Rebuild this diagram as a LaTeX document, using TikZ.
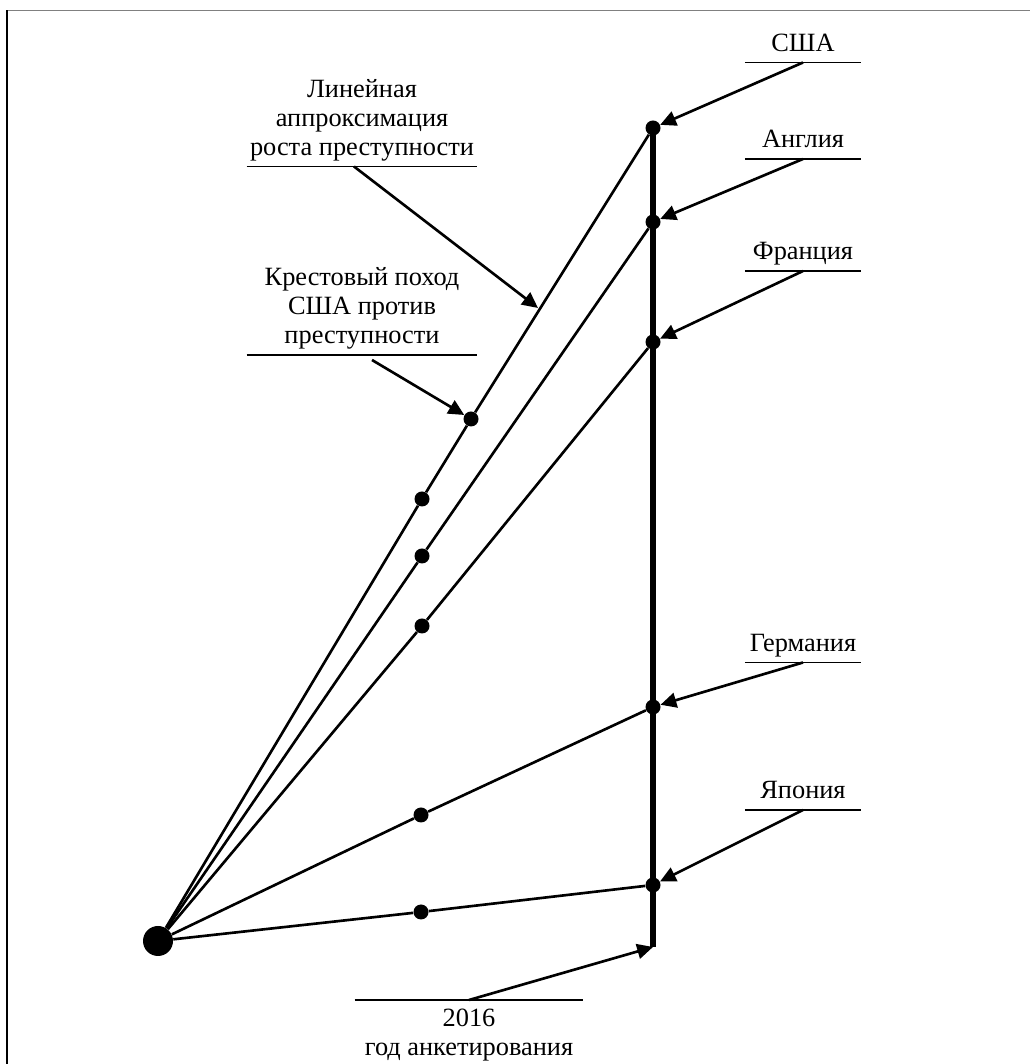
\documentclass[tikz,border=0pt]{standalone}
\usepackage{fontspec}
\setmainfont{Liberation Serif}
\usetikzlibrary{arrows.meta}

\begin{document}
\begin{tikzpicture}[>={Triangle[length=9pt,width=8.5pt]},
	font=\fontsize{15pt}{16.5pt}\selectfont,
	dot/.style={circle, fill, inner sep=0pt, minimum size=0.3cm},
	tag/.style={anchor=south, inner sep=0pt, text depth=0.22cm, align=center},
	line/.style={line width=1.5pt}]
	\useasboundingbox (0,0) rectangle (20.6,21.28);
	\draw [gray, line width=1pt] (0.14,21.07) -- (20.6,21.07);
	\draw [line width=1pt] (0.14,21.07) -- (0.14,0);
	% origin and survey year
	\node [dot, minimum size=0.6cm] (O) at (3.16,2.46) {};
	\node [dot] (usa) at (13.06,18.72) {};
	\node [dot] (eng) at (13.06,16.84) {};
	\node [dot] (fra) at (13.06,14.44) {};
	\node [dot] (ger) at (13.06,7.14) {};
	\node [dot] (jap) at (13.06,3.58) {};
	\coordinate (end) at (13.06,2.34);
	\draw [line width=3.4pt] (usa.center) -- (end);
	% intermediate points
	\node [dot] (usa-m) at (8.44,11.30) {};
	\node [dot] (usa-c) at (9.42,12.90) {};
	\node [dot] (eng-m) at (8.44,10.16) {};
	\node [dot] (fra-m) at (8.44,8.76) {};
	\node [dot] (ger-m) at (8.42,4.98) {};
	\node [dot] (jap-m) at (8.42,3.04) {};
	\draw [line] (O) -- (usa-m) -- (usa-c) -- (usa);
	\draw [line] (O) -- (eng-m) -- (eng);
	\draw [line] (O) -- (fra-m) -- (fra);
	\draw [line] (O) -- (ger-m) -- (ger);
	\draw [line] (O) -- (jap-m) -- (jap);
	% countries
	\foreach \n/\t/\y in {usa/США/20.03, eng/Англия/18.10, fra/Франция/15.86, ger/Германия/8.03, jap/Япония/5.08} {
		\node [tag, minimum width=2.31cm] (\n-t) at (16.06,\y) {\t};
		\draw [line width=1pt] (\n-t.south west) -- (\n-t.south east);
		\draw [line, ->] (\n-t.south) -- (\n);
	}
	% comments on the left
	\node [tag, minimum width=4.6cm] (lin) at (7.24,17.95) {Линейная\\аппроксимация\\роста преступности};
	\draw [line width=1pt] (lin.south west) -- (lin.south east);
	\coordinate (fit) at (10.76,15.12);
	\draw [line, ->] ([xshift=-0.16cm]lin.south) -- (fit);
	\node [tag, minimum width=4.6cm] (cru) at (7.24,14.18) {Крестовый поход\\США против\\преступности};
	\draw [line width=1pt] (cru.south west) -- (cru.south east);
	\draw [line, ->] ([xshift=0.2cm, yshift=-0.1cm]cru.south) -- (usa-c);
	\node [tag, anchor=north, text height=1.1cm, minimum width=4.56cm] (yr) at (9.38,1.28) {2016\\год анкетирования};
	\draw [line width=1pt] (yr.north west) -- (yr.north east);
	\draw [line, ->] (yr.north) -- (end);
\end{tikzpicture}
\end{document}
